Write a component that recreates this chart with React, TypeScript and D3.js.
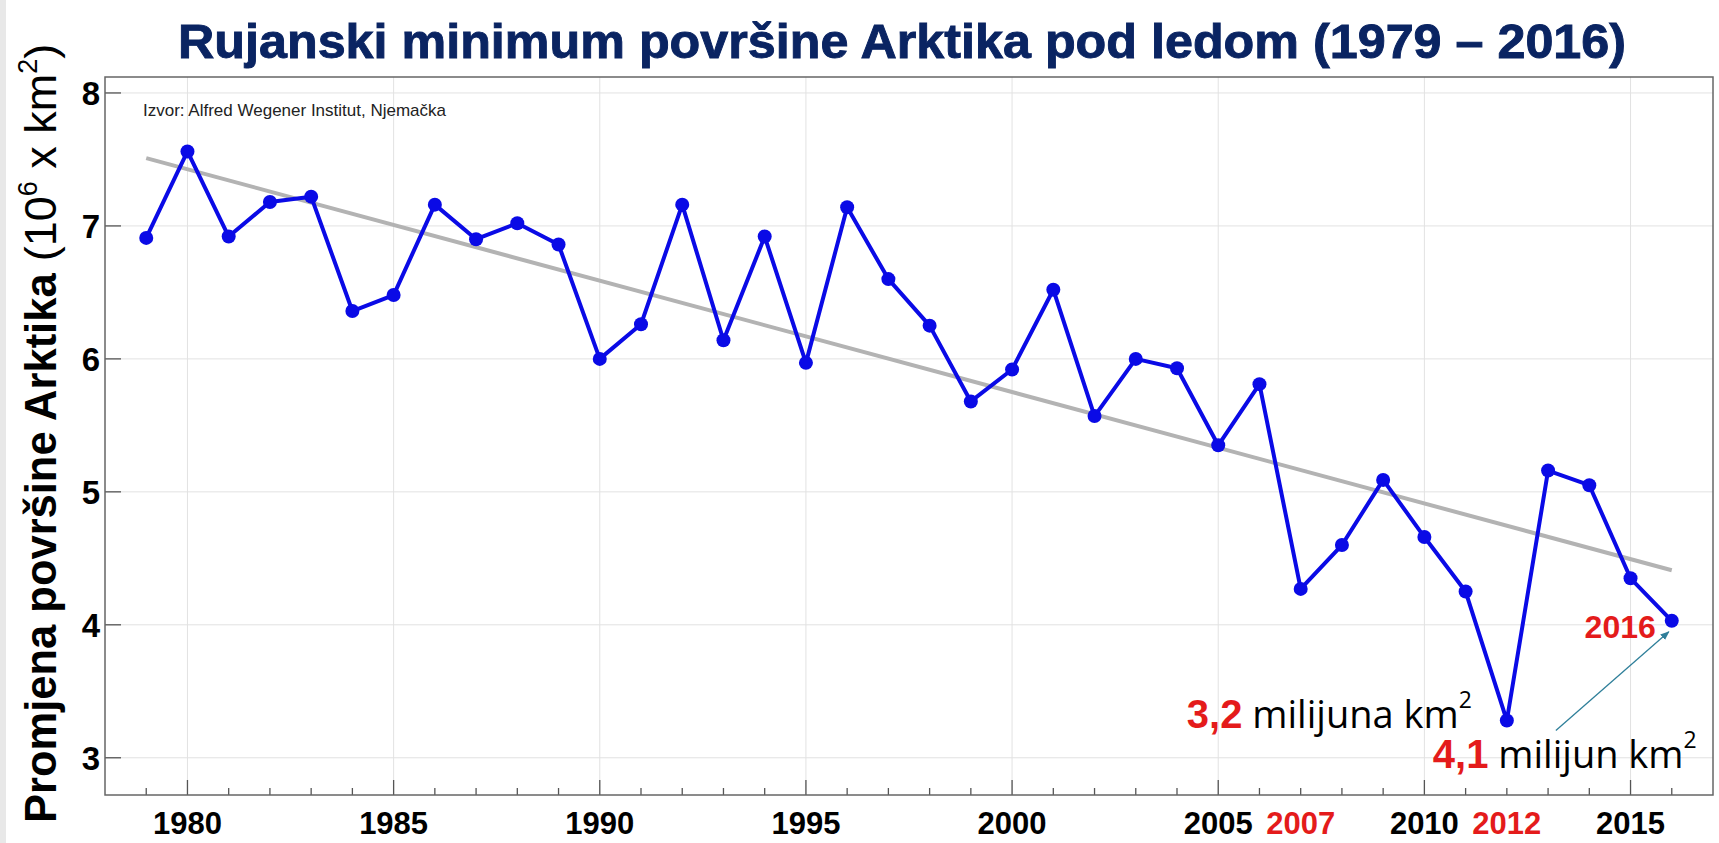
import React from "react";
import * as d3 from "d3";

const years = [1979,1980,1981,1982,1983,1984,1985,1986,1987,1988,1989,1990,1991,1992,1993,1994,1995,1996,1997,1998,1999,2000,2001,2002,2003,2004,2005,2006,2007,2008,2009,2010,2011,2012,2013,2014,2015,2016];
const extent = [6.91,7.56,6.92,7.18,7.22,6.36,6.48,7.16,6.90,7.02,6.86,6.00,6.26,7.16,6.14,6.92,5.97,7.14,6.60,6.25,5.68,5.92,6.52,5.57,6.00,5.93,5.35,5.81,4.27,4.60,5.09,4.66,4.25,3.28,5.16,5.05,4.35,4.03];
const trendYears = [1979, 2016];
const trendValues = [7.51, 4.41];
const xMajorTicks = [1980,1985,1990,1995,2000,2005,2010,2015];
const xRedLabels = [2007, 2012];
const yTicks = [3,4,5,6,7,8];

const W = 1719, H = 843;
const L = 105, R = 1713, T = 77, B = 795;

export default function App() {
  const x = d3.scaleLinear().domain([1978, 2017]).range([L, R]);
  const y = d3.scaleLinear().domain([2.72, 8.12]).range([B, T]);
  const pts = years.map((yr, i) => [yr, extent[i]] as [number, number]);
  const line = d3.line<[number, number]>().x(d => x(d[0])).y(d => y(d[1]));
  const trend = trendYears.map((yr, i) => [yr, trendValues[i]] as [number, number]);
  const blue = "#0a0ae6";
  const red = "#e41b1b";
  const allYears = d3.range(1979, 2017);
  const font = "Liberation Sans, Arial, sans-serif";

  const x2016 = x(2016), y2016 = y(4.03), x2012 = x(2012), y2012 = y(3.28);

  return (
    <div style={{ position: "absolute", left: 0, top: 0 }}>
      <svg width={W} height={H} style={{ display: "block", background: "#fff" }}>
        <defs>
          <marker id="arr" viewBox="0 0 10 10" refX="9" refY="5" markerWidth="7" markerHeight="7" orient="auto">
            <path d="M0,1 L10,5 L0,9 z" fill="#2f7f9a" />
          </marker>
        </defs>
        <rect x={0} y={0} width={6} height={H} fill="#e8e8e8" />
        {/* title */}
        <text x={178} y={58} fontFamily={font} fontWeight="bold" fontSize={48} fill="#0a2462" stroke="#0a2462" strokeWidth={0.9} textLength={1448} lengthAdjust="spacingAndGlyphs">
          Rujanski minimum površine Arktika pod ledom (1979 – 2016)
        </text>
        {/* grid */}
        {xMajorTicks.map(t => (
          <line key={"gx" + t} x1={x(t)} x2={x(t)} y1={T} y2={B} stroke="#e2e2e2" strokeWidth={1} />
        ))}
        {yTicks.map(t => (
          <line key={"gy" + t} x1={L} x2={R} y1={y(t)} y2={y(t)} stroke="#e2e2e2" strokeWidth={1} />
        ))}
        {/* ticks */}
        {allYears.map(t => (
          <line key={"tx" + t} x1={x(t)} x2={x(t)} y1={B} y2={B - (t % 5 === 0 ? 15 : 7)} stroke="#555" strokeWidth={1.3} />
        ))}
        {yTicks.map(t => (
          <line key={"ty" + t} x1={L} x2={L + 16} y1={y(t)} y2={y(t)} stroke="#555" strokeWidth={1.3} />
        ))}
        <rect x={L} y={T} width={R - L} height={B - T} fill="none" stroke="#666" strokeWidth={1.5} />
        {/* source */}
        <text x={143} y={116} fontFamily={font} fontSize={17} fill="#222">
          Izvor: Alfred Wegener Institut, Njemačka
        </text>
        {/* trend */}
        <path d={line(trend) || ""} fill="none" stroke="#b3b3b3" strokeWidth={4} />
        {/* data */}
        <path d={line(pts) || ""} fill="none" stroke={blue} strokeWidth={4} strokeLinejoin="round" />
        {pts.map((d, i) => (
          <circle key={"c" + i} cx={x(d[0])} cy={y(d[1])} r={7} fill={blue} />
        ))}
        {/* tick labels */}
        {yTicks.map(t => (
          <text key={"ly" + t} x={L - 5} y={y(t)} dy="0.36em" textAnchor="end" fontFamily={font} fontWeight="bold" fontSize={33} fill="#000">{t}</text>
        ))}
        {xMajorTicks.map(t => (
          <text key={"lx" + t} x={x(t)} y={834} textAnchor="middle" fontFamily={font} fontWeight="bold" fontSize={31} fill="#000">{t}</text>
        ))}
        {xRedLabels.map(t => (
          <text key={"lr" + t} x={x(t)} y={834} textAnchor="middle" fontFamily={font} fontWeight="bold" fontSize={31} fill={red}>{t}</text>
        ))}
        {/* y axis label */}
        <text transform={`translate(56, 823) rotate(-90)`} textAnchor="start" fontFamily={font} fontSize={45} fill="#000">
          <tspan fontWeight="bold" fontSize={43.5}>Promjena površine Arktika </tspan>
          <tspan>(10</tspan>
          <tspan fontSize={27} dy={-19}>6</tspan>
          <tspan dy={19}> x km</tspan>
          <tspan fontSize={27} dy={-19}>2</tspan>
          <tspan dy={19}>)</tspan>
        </text>
        {/* annotations */}
        <text x={x2016 - 16} y={y2016 + 17} textAnchor="end" fontFamily={font} fontWeight="bold" fontSize={32} fill={red}>2016</text>
        <text x={x2012 - 320} y={y2012 + 7} fontSize={38} fill="#000" fontFamily="Open Sans, sans-serif">
          <tspan fill={red} fontWeight="bold" fontFamily={font} fontSize={40}>3,2</tspan>
          <tspan> milijuna km</tspan>
          <tspan fontSize={23} dy={-20}>2</tspan>
        </text>
        <text x={x2012 - 74} y={y2012 + 47} fontSize={38} fill="#000" fontFamily="Open Sans, sans-serif">
          <tspan fill={red} fontWeight="bold" fontFamily={font} fontSize={40}>4,1</tspan>
          <tspan> milijun km</tspan>
          <tspan fontSize={23} dy={-20}>2</tspan>
        </text>
        <line x1={x2012 + 49} y1={y2012 + 10} x2={x2016 - 3} y2={y2016 + 11} stroke="#2f7f9a" strokeWidth={1.3} markerEnd="url(#arr)" />
      </svg>
    </div>
  );
}
